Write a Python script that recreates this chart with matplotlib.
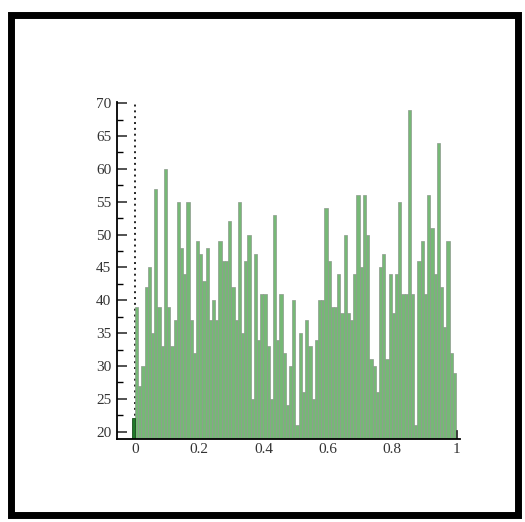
# histogram style bar chart (Maple-like look)
import numpy as np
import matplotlib.pyplot as plt
from matplotlib.patches import Rectangle

plt.rcParams['font.family'] = ['Liberation Serif', 'DejaVu Serif']

# bar heights, 100 bins of width 0.01 on [0, 1]
counts = [39, 27, 30, 42, 45, 35, 57, 39, 33, 60,
          39, 33, 37, 55, 48, 44, 55, 37, 32, 49,
          47, 43, 48, 37, 40, 37, 49, 46, 46, 52,
          42, 37, 55, 35, 46, 50, 25, 47, 34, 41,
          41, 33, 25, 53, 34, 41, 32, 24, 30, 40,
          21, 35, 26, 37, 33, 25, 34, 40, 40, 54,
          46, 39, 39, 44, 38, 50, 38, 37, 44, 56,
          45, 56, 50, 31, 30, 26, 45, 47, 31, 44,
          38, 44, 55, 41, 41, 69, 41, 21, 46, 49,
          41, 56, 51, 44, 64, 42, 36, 49, 32, 29]
bin_width = 0.01
# the two small end bars (left of 0 and right of 1)
left_bar = 22.1
right_bar = 20.3

xticks = [0, 0.2, 0.4, 0.6, 0.8, 1]
xticklabels = ['0', '0.2', '0.4', '0.6', '0.8', '1']
yticks = [20, 25, 30, 35, 40, 45, 50, 55, 60, 65, 70]

fig = plt.figure(figsize=(5.25, 5.22), dpi=100)
fig.patch.set_facecolor('white')

# black frame around the picture
fig.patches.append(Rectangle((11 / 525, 1 - 515 / 522), 507 / 525, 500 / 522,
                             transform=fig.transFigure, fill=False,
                             edgecolor='black', linewidth=5))

ax = fig.add_axes([117 / 525, 1 - 439.3 / 522, 343 / 525, 337.6 / 522])

x = np.arange(len(counts)) * bin_width
bottom = 18.85
heights = np.array(counts) - bottom

# dotted line at x = 0
ax.axvline(0, color='#222222', linestyle=(0, (1, 2)), linewidth=1.4, zorder=1)

ax.bar(x, heights, width=bin_width, bottom=bottom, align='edge',
       color='#76b876', edgecolor='#8d9a8d', linewidth=0.5, zorder=2)
ax.bar([-bin_width], [left_bar - bottom], width=bin_width, bottom=bottom,
       align='edge', color='#1f7a2a', edgecolor='#1b4d1b', linewidth=0.6, zorder=2)
ax.bar([1.0], [right_bar - bottom], width=bin_width * 0.4, bottom=bottom,
       align='edge', color='#333333', edgecolor='#333333', linewidth=0.6, zorder=2)

ax.set_xlim(-0.0561, 1.0125)
ax.set_ylim(bottom, 70.23)

ax.spines['top'].set_visible(False)
ax.spines['right'].set_visible(False)
ax.spines['left'].set_linewidth(1.3)
ax.spines['bottom'].set_linewidth(1.3)

ax.set_xticks(xticks)
ax.set_xticklabels(xticklabels)
ax.set_yticks(yticks)
ax.set_yticks(np.arange(22.5, 70, 5), minor=True)
ax.tick_params(axis='y', which='major', direction='in', length=7, width=1.2,
               labelsize=11, colors='#333333', pad=4)
ax.tick_params(axis='y', which='minor', direction='in', length=4, width=1.0)
ax.tick_params(axis='x', which='major', direction='in', length=0,
               labelsize=11, colors='#333333', pad=3)

fig.savefig('out.png', dpi=100)
